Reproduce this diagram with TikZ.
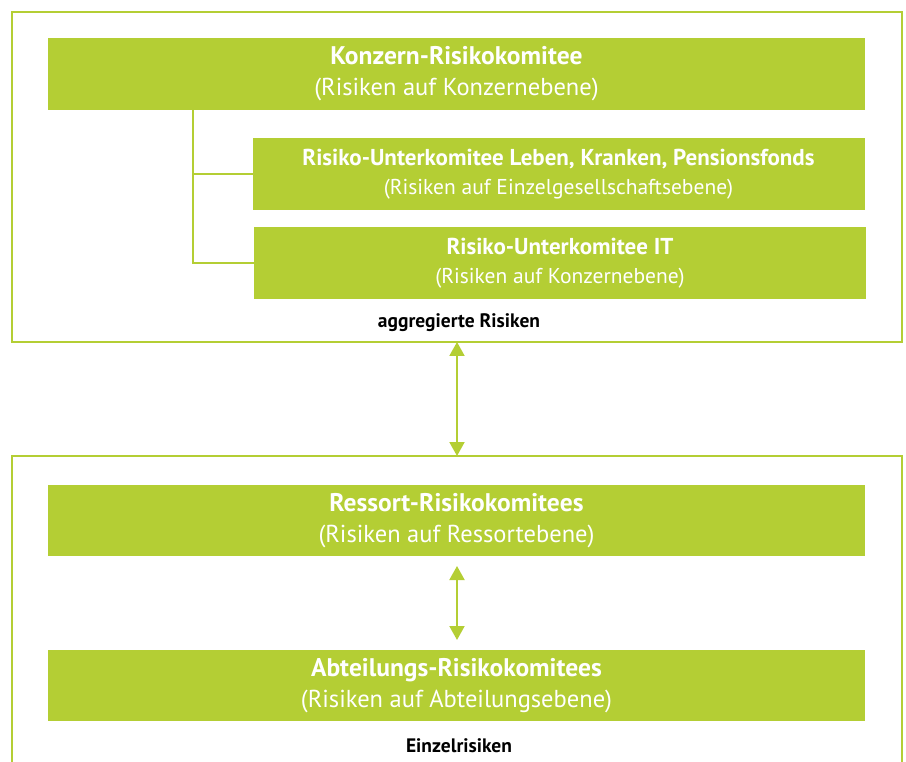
\documentclass[tikz,border=0pt]{standalone}
\usepackage{fontspec}
\setmainfont{PT Sans}
\usetikzlibrary{arrows.meta,positioning}

\definecolor{lime}{RGB}{180,206,52}

\tikzset{
  bar/.style={fill=lime,inner sep=0pt,outer sep=0pt,text=white,align=center,
    minimum width=817pt,minimum height=72pt,font=\fontsize{24.5}{31}\selectfont},
  subbar/.style={bar,minimum width=612pt,font=\fontsize{21.5}{29}\selectfont},
  frame/.style={draw=lime,line width=2.5pt},
  twoway/.style={draw=lime,line width=2pt,{Triangle[width=15pt,length=14pt]}-{Triangle[width=15pt,length=14pt]}},
  tree/.style={draw=lime,line width=1.5pt},
  note/.style={inner sep=0pt,font=\bfseries\fontsize{19.5}{22}\selectfont}
}

\begin{document}
\begin{tikzpicture}[x=1pt,y=-1pt]
\path[use as bounding box] (0,0) rectangle (906,762);

% upper frame
\draw[frame] (12,12) rectangle (902,342);
\coordinate (uptop) at (457,342);
\node[bar] (konzern) at (456.5,74) {{\bfseries\fontsize{25.5}{31}\selectfont Konzern-Risikokomitee}\\(Risiken auf Konzernebene)};
\node[subbar] (leben) at (558.5,174) {{\bfseries\fontsize{23}{29}\selectfont Risiko-Unterkomitee Leben, Kranken, Pensionsfonds}\\(Risiken auf Einzelgesellschaftsebene)};
\node[subbar] (it) at (560,263) {{\bfseries\fontsize{23}{29}\selectfont Risiko-Unterkomitee IT}\\(Risiken auf Konzernebene)};
\coordinate (stem) at (193,110);
\draw[tree] (stem) |- (leben.west);
\draw[tree] (stem) |- (it.west);
\node[note] (aggr) at (459,323) {aggregierte Risiken};

% lower frame
\draw[frame] (12,780) |- (902,456) -- (902,780);
\coordinate (lowtop) at (457,456);
\node[bar,minimum height=71pt] (ressort) at (456.5,520.5) {{\bfseries\fontsize{25.5}{31}\selectfont Ressort-Risikokomitees}\\(Risiken auf Ressortebene)};
\node[bar,minimum height=71pt] (abteil) at (456.5,685.5) {{\bfseries\fontsize{25.5}{31}\selectfont Abteilungs-Risikokomitees}\\(Risiken auf Abteilungsebene)};
\node[note] (einzel) at (459,746) {Einzelrisiken};

\draw[twoway] (uptop) -- (lowtop);
\draw[twoway,shorten <=10pt,shorten >=10pt] (ressort.south -| lowtop) -- (abteil.north -| lowtop);
\end{tikzpicture}
\end{document}
